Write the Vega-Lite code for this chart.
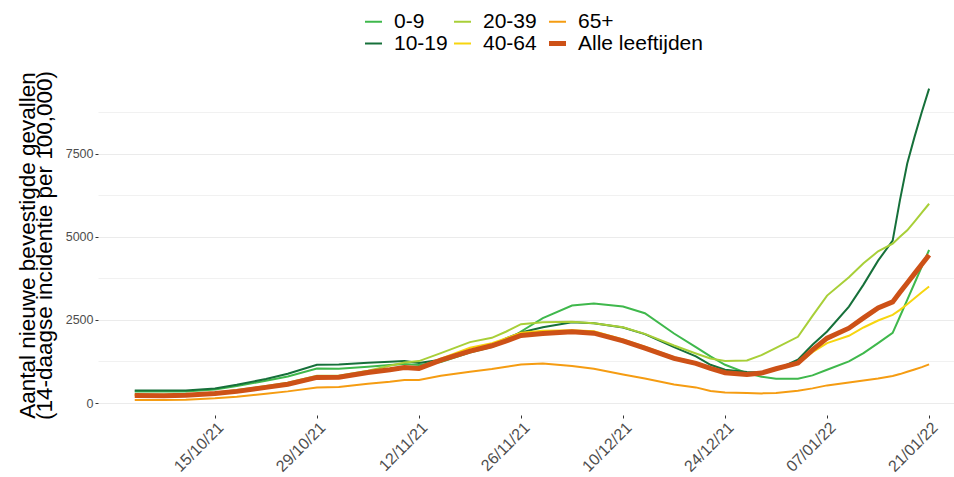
{
 "$schema": "https://vega.github.io/schema/vega-lite/v6.json",
 "width": 856,
 "height": 340,
 "autosize": {"type": "none"},
 "padding": {"left": 98, "top": 75, "right": 0, "bottom": 62},
 "background": "white",
 "config": {"view": {"stroke": null}, "font": "Liberation Sans"},
 "datasets": {
  "tbl": [
   {"date":"2021-10-04","group":"0-9","value":350},{"date":"2021-10-04","group":"10-19","value":380},{"date":"2021-10-04","group":"20-39","value":250},{"date":"2021-10-04","group":"40-64","value":230},{"date":"2021-10-04","group":"65+","value":90},{"date":"2021-10-04","group":"Alle leeftijden","value":225},
   {"date":"2021-10-08","group":"0-9","value":345},{"date":"2021-10-08","group":"10-19","value":375},{"date":"2021-10-08","group":"20-39","value":250},{"date":"2021-10-08","group":"40-64","value":228},{"date":"2021-10-08","group":"65+","value":90},{"date":"2021-10-08","group":"Alle leeftijden","value":222},
   {"date":"2021-10-11","group":"0-9","value":350},{"date":"2021-10-11","group":"10-19","value":380},{"date":"2021-10-11","group":"20-39","value":260},{"date":"2021-10-11","group":"40-64","value":238},{"date":"2021-10-11","group":"65+","value":100},{"date":"2021-10-11","group":"Alle leeftijden","value":232},
   {"date":"2021-10-15","group":"0-9","value":410},{"date":"2021-10-15","group":"10-19","value":440},{"date":"2021-10-15","group":"20-39","value":310},{"date":"2021-10-15","group":"40-64","value":290},{"date":"2021-10-15","group":"65+","value":140},{"date":"2021-10-15","group":"Alle leeftijden","value":285},
   {"date":"2021-10-18","group":"0-9","value":510},{"date":"2021-10-18","group":"10-19","value":550},{"date":"2021-10-18","group":"20-39","value":390},{"date":"2021-10-18","group":"40-64","value":360},{"date":"2021-10-18","group":"65+","value":190},{"date":"2021-10-18","group":"Alle leeftijden","value":350},
   {"date":"2021-10-22","group":"0-9","value":670},{"date":"2021-10-22","group":"10-19","value":720},{"date":"2021-10-22","group":"20-39","value":510},{"date":"2021-10-22","group":"40-64","value":480},{"date":"2021-10-22","group":"65+","value":280},{"date":"2021-10-22","group":"Alle leeftijden","value":470},
   {"date":"2021-10-25","group":"0-9","value":800},{"date":"2021-10-25","group":"10-19","value":880},{"date":"2021-10-25","group":"20-39","value":610},{"date":"2021-10-25","group":"40-64","value":575},{"date":"2021-10-25","group":"65+","value":350},{"date":"2021-10-25","group":"Alle leeftijden","value":565},
   {"date":"2021-10-29","group":"0-9","value":1040},{"date":"2021-10-29","group":"10-19","value":1150},{"date":"2021-10-29","group":"20-39","value":820},{"date":"2021-10-29","group":"40-64","value":780},{"date":"2021-10-29","group":"65+","value":470},{"date":"2021-10-29","group":"Alle leeftijden","value":770},
   {"date":"2021-11-01","group":"0-9","value":1030},{"date":"2021-11-01","group":"10-19","value":1160},{"date":"2021-11-01","group":"20-39","value":820},{"date":"2021-11-01","group":"40-64","value":790},{"date":"2021-11-01","group":"65+","value":480},{"date":"2021-11-01","group":"Alle leeftijden","value":775},
   {"date":"2021-11-05","group":"0-9","value":1090},{"date":"2021-11-05","group":"10-19","value":1210},{"date":"2021-11-05","group":"20-39","value":970},{"date":"2021-11-05","group":"40-64","value":930},{"date":"2021-11-05","group":"65+","value":580},{"date":"2021-11-05","group":"Alle leeftijden","value":920},
   {"date":"2021-11-08","group":"0-9","value":1140},{"date":"2021-11-08","group":"10-19","value":1240},{"date":"2021-11-08","group":"20-39","value":1120},{"date":"2021-11-08","group":"40-64","value":1020},{"date":"2021-11-08","group":"65+","value":640},{"date":"2021-11-08","group":"Alle leeftijden","value":1000},
   {"date":"2021-11-10","group":"0-9","value":1170},{"date":"2021-11-10","group":"10-19","value":1260},{"date":"2021-11-10","group":"20-39","value":1220},{"date":"2021-11-10","group":"40-64","value":1090},{"date":"2021-11-10","group":"65+","value":690},{"date":"2021-11-10","group":"Alle leeftijden","value":1070},
   {"date":"2021-11-12","group":"0-9","value":1140},{"date":"2021-11-12","group":"10-19","value":1200},{"date":"2021-11-12","group":"20-39","value":1260},{"date":"2021-11-12","group":"40-64","value":1060},{"date":"2021-11-12","group":"65+","value":690},{"date":"2021-11-12","group":"Alle leeftijden","value":1040},
   {"date":"2021-11-15","group":"0-9","value":1230},{"date":"2021-11-15","group":"10-19","value":1300},{"date":"2021-11-15","group":"20-39","value":1500},{"date":"2021-11-15","group":"40-64","value":1330},{"date":"2021-11-15","group":"65+","value":820},{"date":"2021-11-15","group":"Alle leeftijden","value":1290},
   {"date":"2021-11-19","group":"0-9","value":1520},{"date":"2021-11-19","group":"10-19","value":1570},{"date":"2021-11-19","group":"20-39","value":1830},{"date":"2021-11-19","group":"40-64","value":1660},{"date":"2021-11-19","group":"65+","value":940},{"date":"2021-11-19","group":"Alle leeftijden","value":1560},
   {"date":"2021-11-22","group":"0-9","value":1680},{"date":"2021-11-22","group":"10-19","value":1740},{"date":"2021-11-22","group":"20-39","value":1960},{"date":"2021-11-22","group":"40-64","value":1800},{"date":"2021-11-22","group":"65+","value":1020},{"date":"2021-11-22","group":"Alle leeftijden","value":1720},
   {"date":"2021-11-24","group":"0-9","value":1850},{"date":"2021-11-24","group":"10-19","value":1950},{"date":"2021-11-24","group":"20-39","value":2150},{"date":"2021-11-24","group":"40-64","value":1950},{"date":"2021-11-24","group":"65+","value":1090},{"date":"2021-11-24","group":"Alle leeftijden","value":1870},
   {"date":"2021-11-26","group":"0-9","value":2150},{"date":"2021-11-26","group":"10-19","value":2120},{"date":"2021-11-26","group":"20-39","value":2370},{"date":"2021-11-26","group":"40-64","value":2110},{"date":"2021-11-26","group":"65+","value":1160},{"date":"2021-11-26","group":"Alle leeftijden","value":2030},
   {"date":"2021-11-29","group":"0-9","value":2550},{"date":"2021-11-29","group":"10-19","value":2280},{"date":"2021-11-29","group":"20-39","value":2430},{"date":"2021-11-29","group":"40-64","value":2170},{"date":"2021-11-29","group":"65+","value":1185},{"date":"2021-11-29","group":"Alle leeftijden","value":2090},
   {"date":"2021-12-03","group":"0-9","value":2930},{"date":"2021-12-03","group":"10-19","value":2430},{"date":"2021-12-03","group":"20-39","value":2440},{"date":"2021-12-03","group":"40-64","value":2190},{"date":"2021-12-03","group":"65+","value":1110},{"date":"2021-12-03","group":"Alle leeftijden","value":2140},
   {"date":"2021-12-06","group":"0-9","value":2990},{"date":"2021-12-06","group":"10-19","value":2400},{"date":"2021-12-06","group":"20-39","value":2400},{"date":"2021-12-06","group":"40-64","value":2160},{"date":"2021-12-06","group":"65+","value":1030},{"date":"2021-12-06","group":"Alle leeftijden","value":2100},
   {"date":"2021-12-10","group":"0-9","value":2900},{"date":"2021-12-10","group":"10-19","value":2270},{"date":"2021-12-10","group":"20-39","value":2280},{"date":"2021-12-10","group":"40-64","value":1910},{"date":"2021-12-10","group":"65+","value":860},{"date":"2021-12-10","group":"Alle leeftijden","value":1870},
   {"date":"2021-12-13","group":"0-9","value":2700},{"date":"2021-12-13","group":"10-19","value":2070},{"date":"2021-12-13","group":"20-39","value":2080},{"date":"2021-12-13","group":"40-64","value":1690},{"date":"2021-12-13","group":"65+","value":740},{"date":"2021-12-13","group":"Alle leeftijden","value":1650},
   {"date":"2021-12-17","group":"0-9","value":2090},{"date":"2021-12-17","group":"10-19","value":1680},{"date":"2021-12-17","group":"20-39","value":1730},{"date":"2021-12-17","group":"40-64","value":1380},{"date":"2021-12-17","group":"65+","value":560},{"date":"2021-12-17","group":"Alle leeftijden","value":1340},
   {"date":"2021-12-20","group":"0-9","value":1680},{"date":"2021-12-20","group":"10-19","value":1400},{"date":"2021-12-20","group":"20-39","value":1490},{"date":"2021-12-20","group":"40-64","value":1220},{"date":"2021-12-20","group":"65+","value":470},{"date":"2021-12-20","group":"Alle leeftijden","value":1190},
   {"date":"2021-12-22","group":"0-9","value":1400},{"date":"2021-12-22","group":"10-19","value":1150},{"date":"2021-12-22","group":"20-39","value":1340},{"date":"2021-12-22","group":"40-64","value":1060},{"date":"2021-12-22","group":"65+","value":360},{"date":"2021-12-22","group":"Alle leeftijden","value":1040},
   {"date":"2021-12-24","group":"0-9","value":1150},{"date":"2021-12-24","group":"10-19","value":1000},{"date":"2021-12-24","group":"20-39","value":1260},{"date":"2021-12-24","group":"40-64","value":930},{"date":"2021-12-24","group":"65+","value":320},{"date":"2021-12-24","group":"Alle leeftijden","value":910},
   {"date":"2021-12-27","group":"0-9","value":900},{"date":"2021-12-27","group":"10-19","value":930},{"date":"2021-12-27","group":"20-39","value":1280},{"date":"2021-12-27","group":"40-64","value":870},{"date":"2021-12-27","group":"65+","value":300},{"date":"2021-12-27","group":"Alle leeftijden","value":860},
   {"date":"2021-12-29","group":"0-9","value":790},{"date":"2021-12-29","group":"10-19","value":920},{"date":"2021-12-29","group":"20-39","value":1440},{"date":"2021-12-29","group":"40-64","value":890},{"date":"2021-12-29","group":"65+","value":290},{"date":"2021-12-29","group":"Alle leeftijden","value":900},
   {"date":"2021-12-31","group":"0-9","value":730},{"date":"2021-12-31","group":"10-19","value":1000},{"date":"2021-12-31","group":"20-39","value":1660},{"date":"2021-12-31","group":"40-64","value":1010},{"date":"2021-12-31","group":"65+","value":300},{"date":"2021-12-31","group":"Alle leeftijden","value":1030},
   {"date":"2022-01-03","group":"0-9","value":730},{"date":"2022-01-03","group":"10-19","value":1300},{"date":"2022-01-03","group":"20-39","value":1990},{"date":"2022-01-03","group":"40-64","value":1180},{"date":"2022-01-03","group":"65+","value":370},{"date":"2022-01-03","group":"Alle leeftijden","value":1200},
   {"date":"2022-01-05","group":"0-9","value":830},{"date":"2022-01-05","group":"10-19","value":1750},{"date":"2022-01-05","group":"20-39","value":2620},{"date":"2022-01-05","group":"40-64","value":1530},{"date":"2022-01-05","group":"65+","value":440},{"date":"2022-01-05","group":"Alle leeftijden","value":1600},
   {"date":"2022-01-07","group":"0-9","value":1000},{"date":"2022-01-07","group":"10-19","value":2150},{"date":"2022-01-07","group":"20-39","value":3230},{"date":"2022-01-07","group":"40-64","value":1800},{"date":"2022-01-07","group":"65+","value":530},{"date":"2022-01-07","group":"Alle leeftijden","value":1950},
   {"date":"2022-01-10","group":"0-9","value":1250},{"date":"2022-01-10","group":"10-19","value":2900},{"date":"2022-01-10","group":"20-39","value":3780},{"date":"2022-01-10","group":"40-64","value":2020},{"date":"2022-01-10","group":"65+","value":620},{"date":"2022-01-10","group":"Alle leeftijden","value":2250},
   {"date":"2022-01-12","group":"0-9","value":1500},{"date":"2022-01-12","group":"10-19","value":3560},{"date":"2022-01-12","group":"20-39","value":4200},{"date":"2022-01-12","group":"40-64","value":2270},{"date":"2022-01-12","group":"65+","value":680},{"date":"2022-01-12","group":"Alle leeftijden","value":2560},
   {"date":"2022-01-14","group":"0-9","value":1800},{"date":"2022-01-14","group":"10-19","value":4280},{"date":"2022-01-14","group":"20-39","value":4560},{"date":"2022-01-14","group":"40-64","value":2480},{"date":"2022-01-14","group":"65+","value":740},{"date":"2022-01-14","group":"Alle leeftijden","value":2860},
   {"date":"2022-01-16","group":"0-9","value":2110},{"date":"2022-01-16","group":"10-19","value":4880},{"date":"2022-01-16","group":"20-39","value":4790},{"date":"2022-01-16","group":"40-64","value":2650},{"date":"2022-01-16","group":"65+","value":810},{"date":"2022-01-16","group":"Alle leeftijden","value":3040},
   {"date":"2022-01-17","group":"0-9","value":2600},{"date":"2022-01-17","group":"10-19","value":6100},{"date":"2022-01-17","group":"20-39","value":5000},{"date":"2022-01-17","group":"40-64","value":2800},{"date":"2022-01-17","group":"65+","value":870},{"date":"2022-01-17","group":"Alle leeftijden","value":3330},
   {"date":"2022-01-18","group":"0-9","value":3100},{"date":"2022-01-18","group":"10-19","value":7200},{"date":"2022-01-18","group":"20-39","value":5190},{"date":"2022-01-18","group":"40-64","value":2970},{"date":"2022-01-18","group":"65+","value":940},{"date":"2022-01-18","group":"Alle leeftijden","value":3610},
   {"date":"2022-01-19","group":"0-9","value":3600},{"date":"2022-01-19","group":"10-19","value":8000},{"date":"2022-01-19","group":"20-39","value":5450},{"date":"2022-01-19","group":"40-64","value":3150},{"date":"2022-01-19","group":"65+","value":1010},{"date":"2022-01-19","group":"Alle leeftijden","value":3890},
   {"date":"2022-01-20","group":"0-9","value":4100},{"date":"2022-01-20","group":"10-19","value":8750},{"date":"2022-01-20","group":"20-39","value":5720},{"date":"2022-01-20","group":"40-64","value":3330},{"date":"2022-01-20","group":"65+","value":1080},{"date":"2022-01-20","group":"Alle leeftijden","value":4170},
   {"date":"2022-01-21","group":"0-9","value":4600},{"date":"2022-01-21","group":"10-19","value":9450},{"date":"2022-01-21","group":"20-39","value":5990},{"date":"2022-01-21","group":"40-64","value":3500},{"date":"2022-01-21","group":"65+","value":1160},{"date":"2022-01-21","group":"Alle leeftijden","value":4450}
  ]
 },
 "data": {"name": "tbl"},
 "encoding": {
  "x": {
   "field": "date", "type": "temporal",
   "scale": {"type": "utc", "domain": [
     {"year": 2021, "month": "sep", "date": 28, "hours": 23, "utc": true},
     {"year": 2022, "month": "jan", "date": 24, "hours": 10, "utc": true}]},
   "axis": {
    "title": null,
    "values": [
     {"year": 2021, "month": "oct", "date": 15, "utc": true},
     {"year": 2021, "month": "oct", "date": 29, "utc": true},
     {"year": 2021, "month": "nov", "date": 12, "utc": true},
     {"year": 2021, "month": "nov", "date": 26, "utc": true},
     {"year": 2021, "month": "dec", "date": 10, "utc": true},
     {"year": 2021, "month": "dec", "date": 24, "utc": true},
     {"year": 2022, "month": "jan", "date": 7, "utc": true},
     {"year": 2022, "month": "jan", "date": 21, "utc": true}],
    "format": "%d/%m/%y",
    "labelAngle": -45, "labelAlign": "right", "labelBaseline": "top",
    "labelFontSize": 16, "labelColor": "#4d4d4d", "labelFont": "Liberation Sans",
    "labelPadding": 1, "labelOverlap": false, "labelFlush": false, "labelBound": false,
    "tickColor": "#333333", "tickSize": 3, "tickWidth": 1,
    "domain": false, "grid": false
   }
  },
  "y": {
   "field": "value", "type": "quantitative",
   "scale": {"domain": [-360, 9860], "nice": false, "zero": false},
   "axis": {
    "title": ["Aantal nieuwe bevestigde gevallen", "(14-daagse incidentie per 100,000)"],
    "titleFontSize": 22.5, "titleFontWeight": "normal", "titleColor": "#000000", "titleFont": "Liberation Sans",
    "titleLineHeight": 17, "titlePadding": 9,
    "values": [0, 1250, 2500, 3750, 5000, 6250, 7500, 8750],
    "format": "d",
    "labelExpr": "datum.value % 2500 === 0 ? datum.label : ''",
    "labelFontSize": 12.5, "labelColor": "#4d4d4d", "labelFont": "Liberation Sans", "labelPadding": 2,
    "tickColor": {"condition": {"test": "datum.value % 2500 === 0", "value": "#333333"}, "value": "transparent"},
    "tickSize": 3,
    "domain": false,
    "grid": true,
    "gridColor": "#ebebeb",
    "gridWidth": {"condition": {"test": "datum.value % 2500 === 0", "value": 1.1}, "value": 0.7}
   }
  },
  "color": {
   "field": "group", "type": "nominal",
   "scale": {
    "domain": ["0-9", "20-39", "65+", "10-19", "40-64", "Alle leeftijden"],
    "range": ["#3fb84c", "#a8cf38", "#f59c12", "#16703a", "#f7d50f", "#cd5117"]
   },
   "legend": {
    "orient": "none", "legendX": 265, "legendY": -64,
    "direction": "horizontal", "columns": 3, "title": null,
    "symbolType": "stroke", "symbolSize": 289, "symbolStrokeWidth": 2,
    "labelFontSize": 21, "labelFont": "Liberation Sans", "labelColor": "#000000",
    "labelOffset": 10, "columnPadding": 2, "rowPadding": 0, "labelLimit": 300,
    "encode": {"symbols": {"update": {"strokeWidth": {"signal": "datum.label === 'Alle leeftijden' ? 5 : 2"}}}}
   }
  }
 },
 "layer": [
  {"transform": [{"filter": "datum.group !== 'Alle leeftijden'"}], "mark": {"type": "line", "strokeWidth": 2}},
  {"transform": [{"filter": "datum.group === 'Alle leeftijden'"}], "mark": {"type": "line", "strokeWidth": 5}}
 ]
}
